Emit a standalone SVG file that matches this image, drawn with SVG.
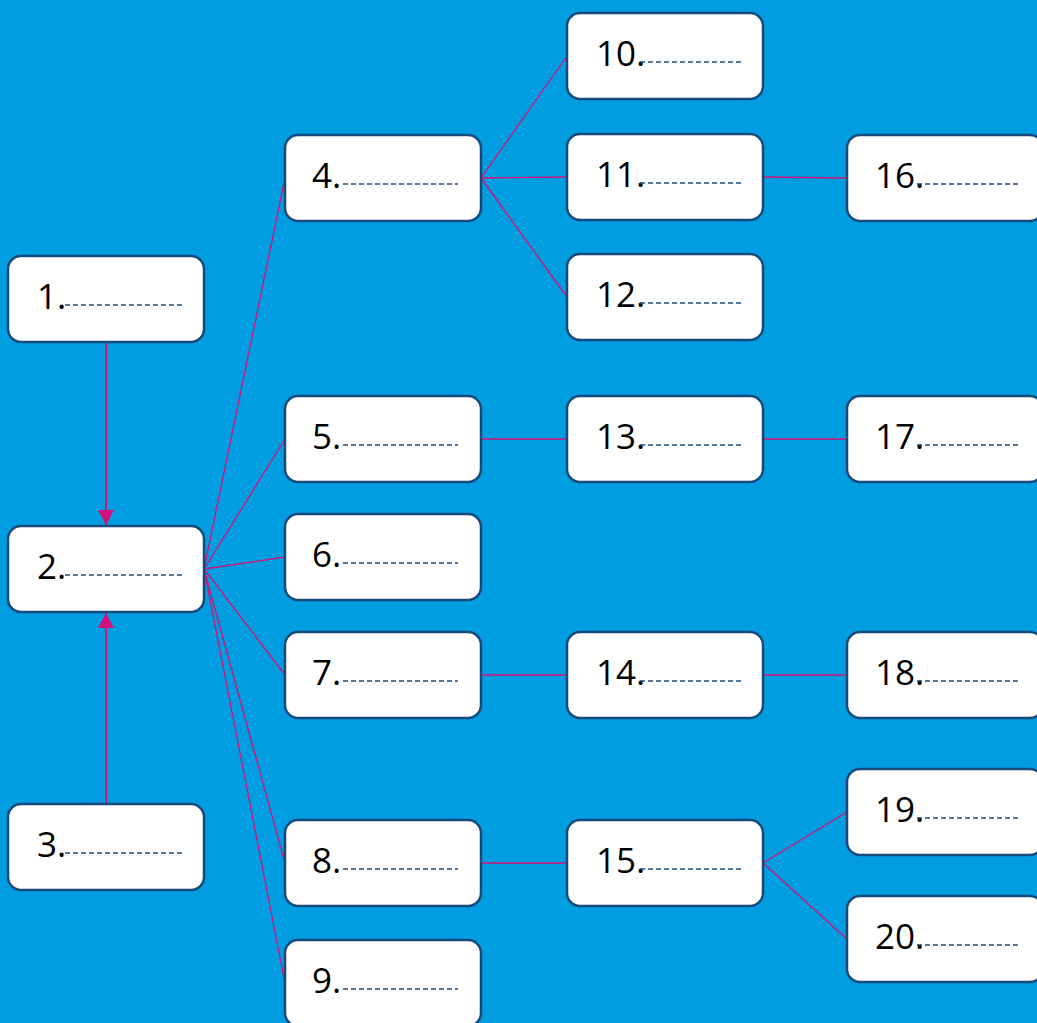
<svg xmlns="http://www.w3.org/2000/svg" width="1037" height="1023" viewBox="0 0 1037 1023">
<defs>
<style>
.box rect{fill:#fff;stroke:#174a7c;stroke-width:2.5}
.box text{font-family:"Open Sans","Liberation Sans",sans-serif;font-size:35px;fill:#000}
.box line{stroke:#1f4e79;stroke-width:1.4;stroke-dasharray:5 3}
.c line{stroke:#d4117a;stroke-width:1.3;fill:none}
.c .a{stroke-width:2}
</style>
<marker id="ah" viewBox="0 0 15 16" refX="15" refY="8" markerWidth="15" markerHeight="16" markerUnits="userSpaceOnUse" orient="auto">
<path d="M0,0 L15,8 L0,16 Z" fill="#d4117a"/>
</marker>
</defs>
<rect width="1037" height="1023" fill="#009ee0"/>
<g class="c">
<line class="a" x1="106" y1="342" x2="106" y2="525" marker-end="url(#ah)"/>
<line class="a" x1="106" y1="804" x2="106" y2="613" marker-end="url(#ah)"/>
<line x1="204" y1="569" x2="285" y2="178"/>
<line x1="204" y1="569" x2="285" y2="439"/>
<line x1="204" y1="569" x2="285" y2="557"/>
<line x1="204" y1="569" x2="285" y2="675"/>
<line x1="204" y1="569" x2="285" y2="863"/>
<line x1="204" y1="569" x2="285" y2="983"/>
<line x1="481" y1="178" x2="567" y2="56"/>
<line x1="481" y1="178" x2="567" y2="177"/>
<line x1="481" y1="178" x2="567" y2="297"/>
<line x1="763" y1="177" x2="847" y2="178"/>
<line x1="481" y1="439" x2="567" y2="439"/>
<line x1="763" y1="439" x2="847" y2="439"/>
<line x1="481" y1="675" x2="567" y2="675"/>
<line x1="763" y1="675" x2="847" y2="675"/>
<line x1="481" y1="863" x2="567" y2="863"/>
<line x1="763" y1="863" x2="847" y2="812"/>
<line x1="763" y1="863" x2="847" y2="939"/>
</g>
<g id="n1" class="box" transform="translate(8,256)"><rect width="196" height="86" rx="13"/><text x="29" y="53">1.</text><line x1="57" y1="49" x2="174" y2="49"/></g>
<g id="n2" class="box" transform="translate(8,526)"><rect width="196" height="86" rx="13"/><text x="29" y="53">2.</text><line x1="57" y1="49" x2="174" y2="49"/></g>
<g id="n3" class="box" transform="translate(8,804)"><rect width="196" height="86" rx="13"/><text x="29" y="53">3.</text><line x1="57" y1="49" x2="174" y2="49"/></g>
<g id="n4" class="box" transform="translate(285,135)"><rect width="196" height="86" rx="13"/><text x="27" y="53">4.</text><line x1="58" y1="49" x2="173" y2="49"/></g>
<g id="n5" class="box" transform="translate(285,396)"><rect width="196" height="86" rx="13"/><text x="27" y="53">5.</text><line x1="58" y1="49" x2="173" y2="49"/></g>
<g id="n6" class="box" transform="translate(285,514)"><rect width="196" height="86" rx="13"/><text x="27" y="53">6.</text><line x1="58" y1="49" x2="173" y2="49"/></g>
<g id="n7" class="box" transform="translate(285,632)"><rect width="196" height="86" rx="13"/><text x="27" y="53">7.</text><line x1="58" y1="49" x2="173" y2="49"/></g>
<g id="n8" class="box" transform="translate(285,820)"><rect width="196" height="86" rx="13"/><text x="27" y="53">8.</text><line x1="58" y1="49" x2="173" y2="49"/></g>
<g id="n9" class="box" transform="translate(285,940)"><rect width="196" height="86" rx="13"/><text x="27" y="53">9.</text><line x1="58" y1="49" x2="173" y2="49"/></g>
<g id="n10" class="box" transform="translate(567,13)"><rect width="196" height="86" rx="13"/><text x="29" y="53">10.</text><line x1="73" y1="49" x2="174" y2="49"/></g>
<g id="n11" class="box" transform="translate(567,134)"><rect width="196" height="86" rx="13"/><text x="29" y="53">11.</text><line x1="73" y1="49" x2="174" y2="49"/></g>
<g id="n12" class="box" transform="translate(567,254)"><rect width="196" height="86" rx="13"/><text x="29" y="53">12.</text><line x1="73" y1="49" x2="174" y2="49"/></g>
<g id="n13" class="box" transform="translate(567,396)"><rect width="196" height="86" rx="13"/><text x="29" y="53">13.</text><line x1="73" y1="49" x2="174" y2="49"/></g>
<g id="n14" class="box" transform="translate(567,632)"><rect width="196" height="86" rx="13"/><text x="29" y="53">14.</text><line x1="73" y1="49" x2="174" y2="49"/></g>
<g id="n15" class="box" transform="translate(567,820)"><rect width="196" height="86" rx="13"/><text x="29" y="53">15.</text><line x1="73" y1="49" x2="174" y2="49"/></g>
<g id="n16" class="box" transform="translate(847,135)"><rect width="196" height="86" rx="13"/><text x="28" y="53">16.</text><line x1="70" y1="49" x2="173" y2="49"/></g>
<g id="n17" class="box" transform="translate(847,396)"><rect width="196" height="86" rx="13"/><text x="28" y="53">17.</text><line x1="70" y1="49" x2="173" y2="49"/></g>
<g id="n18" class="box" transform="translate(847,632)"><rect width="196" height="86" rx="13"/><text x="28" y="53">18.</text><line x1="70" y1="49" x2="173" y2="49"/></g>
<g id="n19" class="box" transform="translate(847,769)"><rect width="196" height="86" rx="13"/><text x="28" y="53">19.</text><line x1="70" y1="49" x2="173" y2="49"/></g>
<g id="n20" class="box" transform="translate(847,896)"><rect width="196" height="86" rx="13"/><text x="28" y="53">20.</text><line x1="70" y1="49" x2="173" y2="49"/></g>
</svg>
